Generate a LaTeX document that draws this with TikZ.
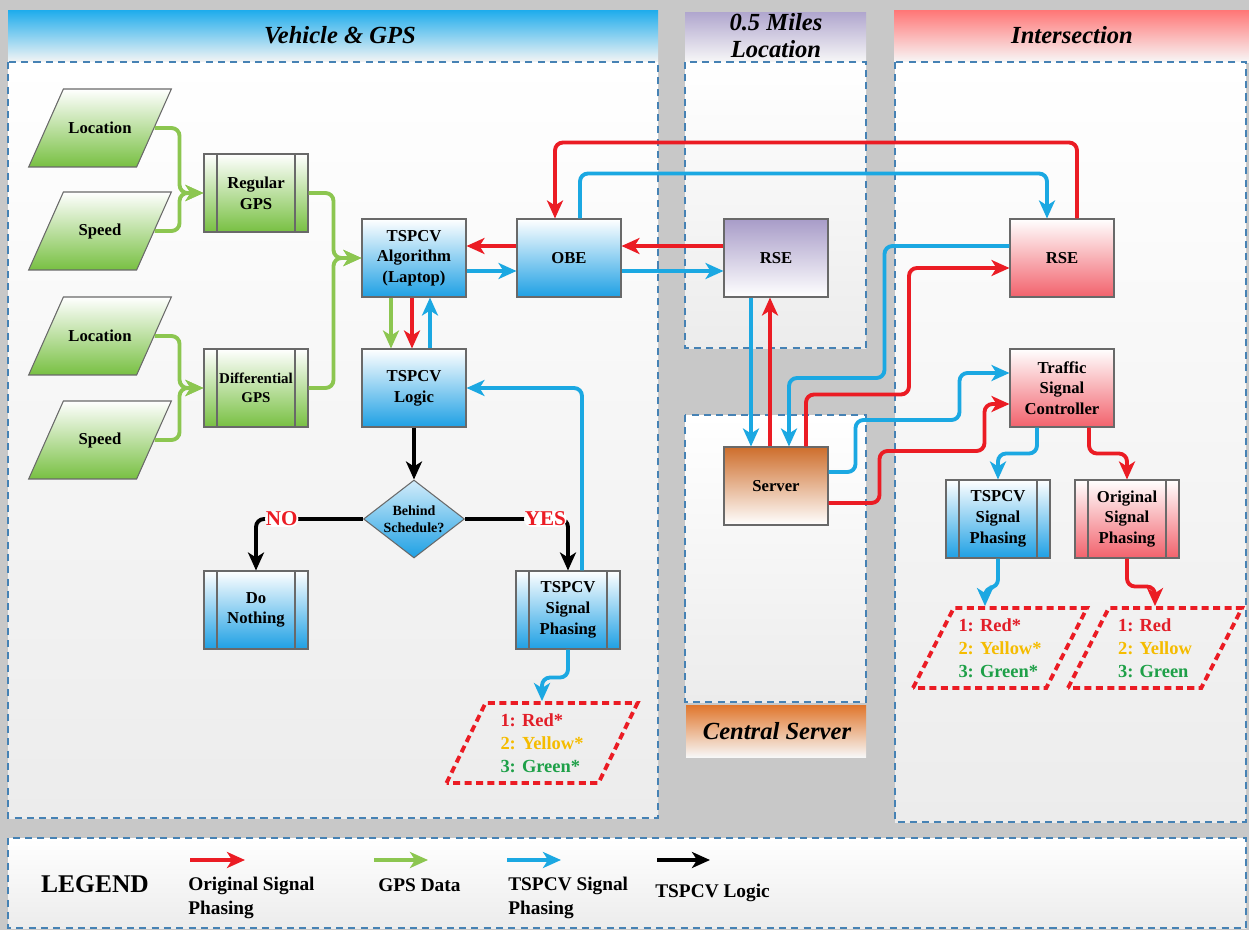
\documentclass[tikz,border=0pt]{standalone}
\usepackage{fontspec}
\setmainfont{Liberation Serif}
\usepackage{tikz}
\usetikzlibrary{arrows.meta,shapes.geometric,calc}

\definecolor{lanegray}{RGB}{200,200,200}
\definecolor{bodygray}{RGB}{236,236,236}
\definecolor{panelline}{RGB}{70,130,180}
\definecolor{boxline}{RGB}{105,105,105}
\definecolor{bluefill}{RGB}{30,160,228}
\definecolor{greenfill}{RGB}{120,192,66}
\definecolor{redfill}{RGB}{242,98,108}
\definecolor{purplefill}{RGB}{168,156,200}
\definecolor{orangefill}{RGB}{206,110,44}
\definecolor{bluehead}{RGB}{30,172,236}
\definecolor{purplehead}{RGB}{176,166,206}
\definecolor{redhead}{RGB}{255,118,118}
\definecolor{orangehead}{RGB}{224,118,44}
\definecolor{redline}{RGB}{235,28,36}
\definecolor{greenline}{RGB}{140,198,80}
\definecolor{blueline}{RGB}{27,168,226}
\definecolor{txtred}{RGB}{226,30,40}
\definecolor{txtyellow}{RGB}{245,188,0}
\definecolor{txtgreen}{RGB}{30,160,72}

\newcommand{\boxfnt}{\bfseries\fontsize{9.5}{11.8}\selectfont}
\newcommand{\titlefnt}{\bfseries\itshape\fontsize{14}{15.4}\selectfont}
\newcommand{\outfnt}{\bfseries\fontsize{10.5}{13}\selectfont}
\newcommand{\legfnt}{\bfseries\fontsize{11}{13.7}\selectfont}

\begin{document}
\begin{tikzpicture}[x=0.02cm,y=-0.02cm,
    box/.style={draw=boxline,line width=0.6pt,minimum width=2.08cm,minimum height=1.56cm,
      align=center,font=\boxfnt,inner sep=1pt},
    bluebox/.style={box,top color=white,bottom color=bluefill},
    greenbox/.style={box,top color=white,bottom color=greenfill},
    redbox/.style={box,top color=white,bottom color=redfill},
    purplebox/.style={box,top color=purplefill,bottom color=white},
    orangebox/.style={box,top color=orangefill,bottom color=white},
    proc/.style={path picture={
      \draw[boxline,line width=0.6pt] ([xshift=0.26cm]path picture bounding box.north west) -- ([xshift=0.26cm]path picture bounding box.south west);
      \draw[boxline,line width=0.6pt] ([xshift=-0.26cm]path picture bounding box.north east) -- ([xshift=-0.26cm]path picture bounding box.south east);}},
    % empty slanted body, the text goes in as a centre label
    para/.style={trapezium,trapezium left angle=66,trapezium right angle=114,inner sep=0pt,
      text width=1.465cm,text height=1.56cm,text depth=0pt},
    greenpara/.style={para,draw=boxline,line width=0.6pt,top color=white,bottom color=greenfill,
      label={[font=\boxfnt]center:#1}},
    outpara/.style={para,trapezium left angle=64,trapezium right angle=116,text height=1.6cm,
      draw=redline,line width=2.2pt,dash pattern=on 4pt off 2.5pt},
    outtext/.style={font=\outfnt,align=left},
    decision/.style={diamond,aspect=1.3,draw=boxline,line width=0.6pt,top color=white!80!bluefill,
      bottom color=bluefill,minimum width=2.02cm,minimum height=1.56cm,inner sep=0pt,align=center,
      font=\bfseries\fontsize{8}{9.8}\selectfont},
    panel/.style={draw=panelline,line width=0.9pt,dash pattern=on 4pt off 3pt,top color=white,bottom color=bodygray},
    title/.style={font=\titlefnt,align=center},
    flow/.style={line width=2.2pt,rounded corners=0.16cm,-{Stealth[length=0.36cm,width=0.32cm,inset=0.1cm]}},
    redarr/.style={flow,draw=redline},
    greenarr/.style={flow,draw=greenline},
    bluearr/.style={flow,draw=blueline},
    blackarr/.style={flow,draw=black},
    lbl/.style={text=redline,fill=white,inner sep=0.5pt,font=\bfseries\fontsize{12}{12}\selectfont},
  ]
  % background
  \fill[lanegray] (0,0) rectangle (1249,930);
  % panels
  \shade[top color=bluehead,bottom color=white!92!gray] (8,10) rectangle (658,62);
  \draw[panel] (8,62) rectangle (658,818);
  \shade[top color=purplehead,bottom color=white!94!gray] (685,12) rectangle (866,62);
  \draw[panel] (685,62) rectangle (866,348);
  \draw[panel] (685,415) rectangle (866,702);
  \shade[top color=orangehead,bottom color=white!94!gray] (686,705) rectangle (866,757);
  \shade[top color=redhead,bottom color=white!94!gray] (894,10) rectangle (1249,62);
  \draw[panel] (895,62) rectangle (1246,822);
  \draw[panel] (8,838) rectangle (1246,928);
  \node[title] (vehtitle) at (340,35) {Vehicle \& GPS};
  \node[title] (miletitle) at (776,36) {0.5 Miles\\Location};
  \node[title] (intertitle) at (1072,35) {Intersection};
  \node[title] (centraltitle) at (777,731) {Central Server};

  % vehicle side
  \node[greenpara=Location] (loc1) at (100,128) {};
  \node[greenpara=Speed] (spd1) at (100,231) {};
  \node[greenpara=Location] (loc2) at (100,336) {};
  \node[greenpara=Speed] (spd2) at (100,440) {};
  \node[greenbox,proc] (reg) at (256,193) {Regular\\GPS};
  \node[greenbox,proc,font=\bfseries\fontsize{8.5}{11}\selectfont] (diff) at (256,388) {Differential\\GPS};
  \node[bluebox] (alg) at (414,258) {TSPCV\\Algorithm\\(Laptop)};
  \node[bluebox] (obe) at (569,258) {OBE};
  \node[bluebox] (logic) at (414,388) {TSPCV\\Logic};
  \node[decision] (dec) at (414,519) {Behind\\Schedule?};
  \node[bluebox,proc] (none) at (256,610) {Do\\Nothing};
  \node[bluebox,proc] (phase1) at (568,610) {TSPCV\\Signal\\Phasing};
  \node[outpara,text width=2.26cm] (out1) at (542,743) {};
  \node[outtext] (out1txt) at (out1.center)
    {\textcolor{txtred}{1: Red*}\\\textcolor{txtyellow}{2: Yellow*}\\\textcolor{txtgreen}{3: Green*}};

  % roadside and server
  \node[purplebox] (rse1) at (776,258) {RSE};
  \node[orangebox] (server) at (776,486) {Server};

  % intersection
  \node[redbox] (rse2) at (1062,258) {RSE};
  \node[redbox] (tsc) at (1062,388) {Traffic\\Signal\\Controller};
  \node[bluebox,proc] (phase2) at (998,519) {TSPCV\\Signal\\Phasing};
  \node[redbox,proc] (orig) at (1127,519) {Original\\Signal\\Phasing};
  \node[outpara,trapezium left angle=63,trapezium right angle=117,text width=1.85cm] (out2) at (1000,648) {};
  \node[outtext] (out2txt) at (out2.center)
    {\textcolor{txtred}{1: Red*}\\\textcolor{txtyellow}{2: Yellow*}\\\textcolor{txtgreen}{3: Green*}};
  \node[outpara,trapezium left angle=63,trapezium right angle=117,text width=1.85cm] (out3) at (1155,648) {};
  \node[outtext] (out3txt) at (out3.center)
    {\textcolor{txtred}{1: Red}\\\textcolor{txtyellow}{2: Yellow}\\\textcolor{txtgreen}{3: Green}};

  % gps data
  \draw[greenarr] (loc1.east) -- ++(25,0) |- (reg.west);
  \draw[greenarr] (spd1.east) -- ++(25,0) |- (reg.west);
  \draw[greenarr] (loc2.east) -- ++(25,0) |- (diff.west);
  \draw[greenarr] (spd2.east) -- ++(25,0) |- (diff.west);
  \draw[greenarr] (reg.east) -- ++(25,0) |- (alg.west);
  \draw[greenarr] (diff.east) -- ++(25,0) |- (alg.west);
  \draw[greenarr] ($(alg.south)+(-23,0)$) -- ($(logic.north)+(-23,0)$);

  % original signal phasing
  \draw[redarr] ($(alg.south)+(-2,0)$) -- ($(logic.north)+(-2,0)$);
  \draw[redarr] ($(obe.west)+(0,-12)$) -- ($(alg.east)+(0,-12)$);
  \draw[redarr] ($(rse1.west)+(0,-12)$) -- ($(obe.east)+(0,-12)$);
  \draw[redarr] ($(rse2.north)+(15,0)$) -- ++(0,-76) -| ($(obe.north)+(-14,0)$);
  \draw[redarr] ($(server.north)+(-6,0)$) -- ($(rse1.south)+(-6,0)$);
  \draw[redarr] ($(server.north)+(30,0)$) -- ++(0,-52) -- ++(103,0) |- ($(rse2.west)+(0,10)$);
  \draw[redarr] ($(server.east)+(0,17)$) -- ++(51,0) -- ++(0,-52) -- ++(105,0) |- ($(tsc.west)+(0,16)$);
  \draw[redarr] ($(tsc.south)+(27,0)$) -- ++(0,26) -| (orig.north);
  \draw[redarr] (orig.south) -- ++(0,28) -| (out3.north);

  % tspcv signal phasing
  \draw[bluearr] ($(logic.north)+(16,0)$) -- ($(alg.south)+(16,0)$);
  \draw[bluearr] ($(alg.east)+(0,13)$) -- ($(obe.west)+(0,13)$);
  \draw[bluearr] ($(obe.east)+(0,13)$) -- ($(rse1.west)+(0,13)$);
  \draw[bluearr] ($(obe.north)+(11,0)$) -- ++(0,-45) -| ($(rse2.north)+(-15,0)$);
  \draw[bluearr] ($(rse1.south)+(-25,0)$) -- ($(server.north)+(-25,0)$);
  \draw[bluearr] ($(rse2.west)+(0,-12)$) -- ++(-125,0) -- ++(0,132) -| ($(server.north)+(13,0)$);
  \draw[bluearr] ($(server.east)+(0,-14)$) -- ++(27,0) -- ++(0,-52) -- ++(104,0) |- ($(tsc.west)+(0,-15)$);
  \draw[bluearr] ($(tsc.south)+(-25,0)$) -- ++(0,26) -| (phase2.north);
  \draw[bluearr] (phase2.south) -- ++(0,29) -| ($(out2.north)+(-15,0)$);
  \draw[bluearr] ($(phase1.north)+(14,0)$) |- (logic.east);
  \draw[bluearr] (phase1.south) -- ++(0,28) -| (out1.north);

  % tspcv logic
  \draw[blackarr] (logic.south) -- (dec.north);
  \draw[blackarr] (dec.west) -| node[lbl,pos=0.38] {NO} (none.north);
  \draw[blackarr] (dec.east) -| node[lbl,pos=0.39] {YES} (phase1.north);

  % legend
  \node[font=\bfseries\fontsize{14.5}{16}\selectfont] (legtitle) at (95,884) {LEGEND};
  \coordinate (lga) at (190,860); \coordinate (lgb) at (245,860);
  \coordinate (lgc) at (374,860); \coordinate (lgd) at (428,860);
  \coordinate (lge) at (507,860); \coordinate (lgf) at (561,860);
  \coordinate (lgg) at (657,860); \coordinate (lgh) at (710,860);
  \draw[redarr] (lga) -- (lgb);
  \draw[greenarr] (lgc) -- (lgd);
  \draw[bluearr] (lge) -- (lgf);
  \draw[blackarr] (lgg) -- (lgh);
  \node[font=\legfnt,align=left,anchor=north west,inner sep=0pt] (legred) at (188,877) {Original Signal\\Phasing};
  \node[font=\legfnt,anchor=west,inner sep=0pt] (leggreen) at (378,885) {GPS Data};
  \node[font=\legfnt,align=left,anchor=north west,inner sep=0pt] (legblue) at (508,877) {TSPCV Signal\\Phasing};
  \node[font=\legfnt,anchor=west,inner sep=0pt] (legblack) at (655,893) {TSPCV Logic};
\end{tikzpicture}
\end{document}
